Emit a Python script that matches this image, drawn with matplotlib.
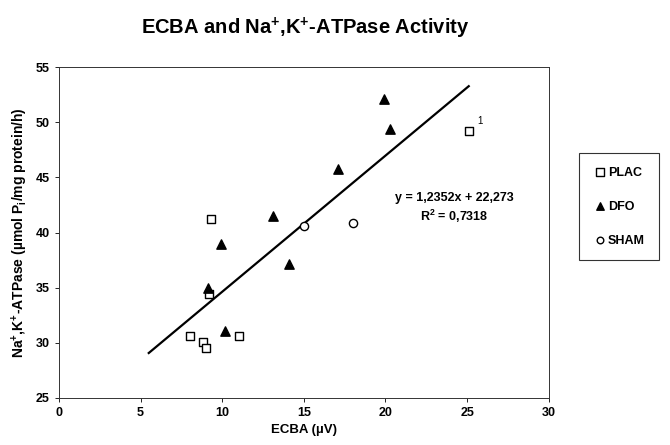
import matplotlib.pyplot as plt
import numpy as np

plt.rcParams['font.family'] = ['Liberation Sans', 'DejaVu Sans']
plt.rcParams['mathtext.fontset'] = 'custom'
plt.rcParams['mathtext.rm'] = 'Liberation Sans:bold'
plt.rcParams['mathtext.it'] = 'Liberation Sans:bold'
plt.rcParams['mathtext.bf'] = 'Liberation Sans:bold'

# data
plac_x = [8.0, 8.8, 9.0, 11.0, 9.2, 9.3, 25.1]
plac_y = [30.6, 30.1, 29.5, 30.6, 34.4, 41.2, 49.2]
dfo_x = [9.1, 9.9, 10.2, 13.1, 14.1, 17.1, 19.9, 20.3]
dfo_y = [35.0, 39.0, 31.1, 41.5, 37.1, 45.8, 52.1, 49.4]
sham_x = [15.0, 18.0]
sham_y = [40.6, 40.9]

slope = 1.2352
intercept = 22.273
trend_range = [5.5, 25.1]

fig = plt.figure(figsize=(6.7, 4.45), dpi=100)
ax = fig.add_axes([0.088, 0.106, 0.731, 0.743])

tx = np.array(trend_range)
ax.plot(tx, slope * tx + intercept, color='black', lw=1.6, zorder=1)

ax.scatter(plac_x, plac_y, marker='s', s=40, facecolors='white', edgecolors='black', linewidths=1.0, label='PLAC', zorder=3)
ax.scatter(dfo_x, dfo_y, marker='^', s=45, color='black', label='DFO', zorder=3)
ax.scatter(sham_x, sham_y, marker='o', s=35, facecolors='white', edgecolors='black', linewidths=1.0, label='SHAM', zorder=3)

ax.annotate('1', xy=(plac_x[-1], plac_y[-1]), xytext=(6, 5), textcoords='offset points', fontsize=7)

ax.text(24.2, 42.2, r'y = 1,2352x + 22,273' + '\n' + r'R$^{2}$ = 0,7318', ha='center', va='center',
        fontsize=9, fontweight='bold', linespacing=1.3)

ax.set_xlim(0, 30)
ax.set_ylim(25, 55)
ax.set_xticks([0, 5, 10, 15, 20, 25, 30])
ax.set_yticks([25, 30, 35, 40, 45, 50, 55])
ax.tick_params(labelsize=9, length=3, width=0.6, direction='out')
for lab in ax.get_xticklabels() + ax.get_yticklabels():
    lab.set_fontweight('bold')
for sp in ax.spines.values():
    sp.set_linewidth(0.7)
    sp.set_color('#333333')

ax.set_xlabel('ECBA (µV)', fontsize=9.5, fontweight='bold')
ax.set_ylabel('Na$^{+}$,K$^{+}$-ATPase (µmol P$_{i}$/mg protein/h)', fontsize=10, fontweight='bold')

fig.suptitle('ECBA and Na$^{+}$,K$^{+}$-ATPase Activity', x=0.455, y=0.965, fontsize=14.5, fontweight='bold')

leg = fig.legend(loc='upper left', bbox_to_anchor=(579 / 670, 1 - 153 / 445), frameon=True, fancybox=False,
                 edgecolor='black', handletextpad=0.0, handlelength=1.2, labelspacing=1.75, borderpad=1.1,
                 borderaxespad=0.0, markerscale=0.8, prop={'weight': 'bold', 'size': 9})
leg.get_frame().set_linewidth(0.8)

fig.savefig('out.png', dpi=100)
